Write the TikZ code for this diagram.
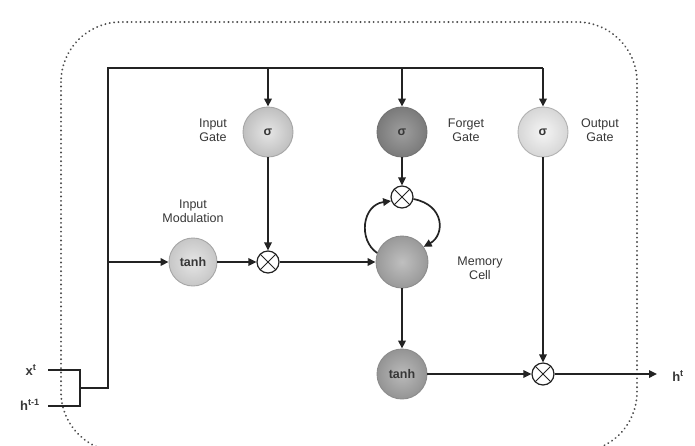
\documentclass[tikz,border=0pt]{standalone}
\usepackage{fontspec}
\setmainfont{Liberation Sans}
\usetikzlibrary{arrows.meta}
\definecolor{linec}{RGB}{35,35,35}
\definecolor{txtc}{RGB}{55,55,55}
\begin{document}
\begin{tikzpicture}[x=1pt,y=-1pt,
  line/.style={draw=linec,line width=1.7pt},
  arr/.style={line,-{Triangle[length=8pt,width=7.5pt]}},
  gate/.style={circle,minimum size=#1,inner sep=0pt,line width=0.9pt,font=\fontsize{12.5}{12}\selectfont\bfseries,text=txtc},
  g1/.style={gate=50pt,draw=black!35,inner color=black!10,outer color=black!25},
  g2/.style={gate=50pt,draw=black!55,inner color=black!38,outer color=black!52},
  g3/.style={gate=50pt,draw=black!30,inner color=black!4,outer color=black!16},
  g4/.style={gate=48pt,draw=black!35,inner color=black!10,outer color=black!22},
  g5/.style={gate=52pt,draw=black!45,inner color=black!25,outer color=black!40},
  g6/.style={gate=50pt,draw=black!45,inner color=black!27,outer color=black!42},
  mult/.style={circle,minimum size=22pt,inner sep=0pt,draw=linec,line width=1.2pt,fill=white,
    path picture={\draw[linec,line width=1pt] (path picture bounding box.south west)--(path picture bounding box.north east)
      (path picture bounding box.north west)--(path picture bounding box.south east);}},
  lbl/.style={font=\fontsize{12.5}{14}\selectfont,text=txtc,align=center},
  var/.style={font=\fontsize{13}{13}\selectfont\bfseries,text=txtc}]
\useasboundingbox (0,0) rectangle (695,445);
\fill[white] (0,0) rectangle (695,445);
\begin{scope}
\clip (0,0) rectangle (695,445);
\draw[black!70,line width=2pt,line cap=round,dash pattern=on 0.1pt off 4.3pt,rounded corners=60pt] (61,22) rectangle (637,452);
\end{scope}

% nodes
\node[g1] (ig) at (268,132) {σ};
\node[g2] (fg) at (402,132) {σ};
\node[g3] (og) at (543,132) {σ};
\node[g4] (tm) at (193,262) {tanh};
\node[mult] (im) at (268,262) {};
\node[g5] (mc) at (402,262) {};
\node[mult] (fm) at (402,197) {};
\node[g6] (tc) at (402,374) {tanh};
\node[mult] (om) at (543,374) {};

\node[lbl] (l1) at (213,130) {Input\\Gate};
\node[lbl] (l2) at (466,130) {Forget\\Gate};
\node[lbl] (l3) at (600,130) {Output\\Gate};
\node[lbl] (l4) at (193,211) {Input\\Modulation};
\node[lbl] (l5) at (480,268) {Memory\\Cell};
\node[var] (xt) at (31,370) {x\textsuperscript{t}};
\node[var] (ht1) at (30,405) {h\textsuperscript{t-1}};
\node[var] (ht) at (678,376) {h\textsuperscript{t}};

% coordinates
\coordinate (xs) at (48,370);
\coordinate (hs) at (48,406);
\coordinate (bx) at (80,370);
\coordinate (bh) at (80,406);
\coordinate (bm) at (80,388);
\coordinate (jn) at (108,388);
\coordinate (br) at (108,262);
\coordinate (tl) at (108,68);
\coordinate (t1) at (268,68);
\coordinate (t2) at (402,68);
\coordinate (t3) at (543,68);
\coordinate (hend) at (657,374);

% connectors
\draw[line] (xs) -- (bx) -- (bh) -- (hs);
\draw[line] (bm) -- (jn) -- (tl) -- (t3);
\draw[arr] (t1) -- (ig);
\draw[arr] (t2) -- (fg);
\draw[arr] (t3) -- (og);
\draw[arr] (br) -- (tm);
\draw[arr] (tm) -- (im);
\draw[arr] (ig) -- (im);
\draw[arr] (im) -- (mc);
\draw[arr] (fg) -- (fm);
\draw[arr] (mc.160) .. controls (358,240) and (362,205) .. (fm.200);
\draw[arr] (fm.-10) .. controls (445,205) and (445,235) .. (mc.35);
\draw[arr] (mc) -- (tc);
\draw[arr] (tc) -- (om);
\draw[arr] (og) -- (om);
\draw[arr] (om) -- (hend);
\end{tikzpicture}
\end{document}
